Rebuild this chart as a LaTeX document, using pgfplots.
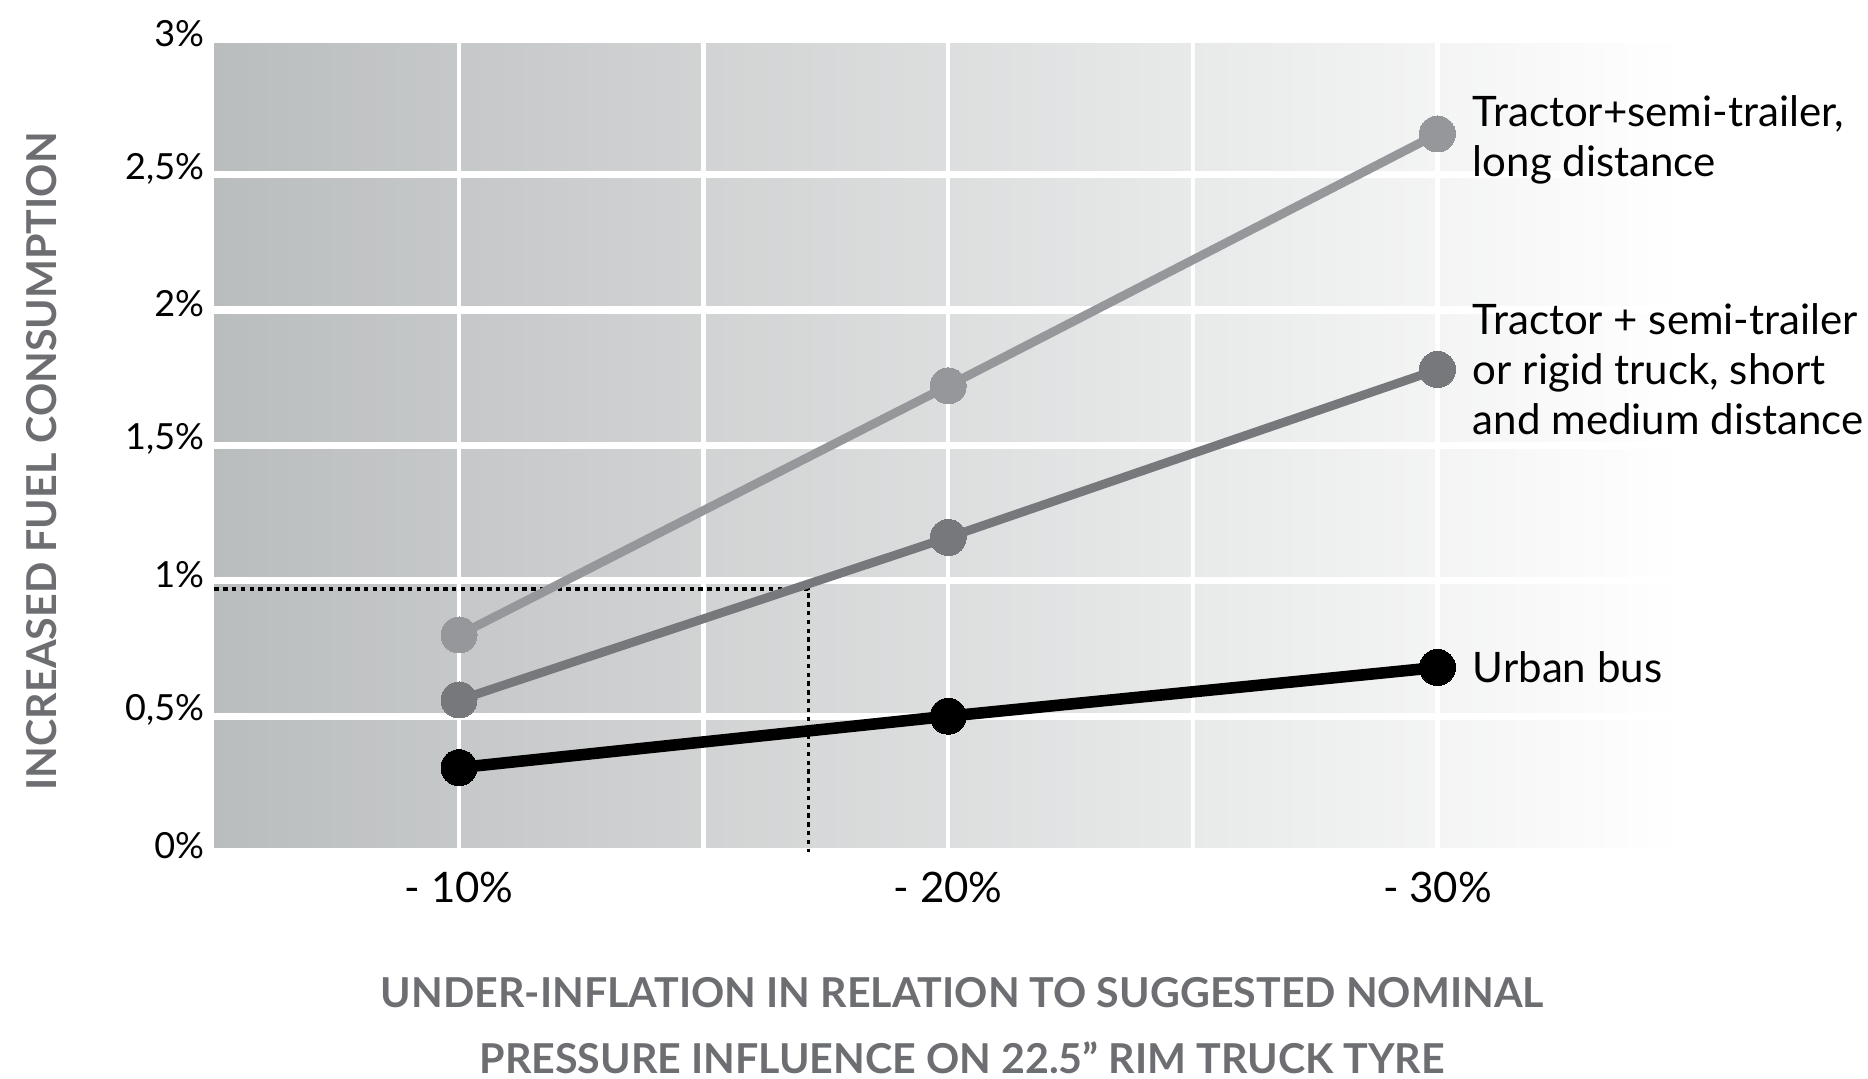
\documentclass[border=0pt]{standalone}
\usepackage{pgfplots}
\pgfplotsset{compat=1.18}
\usepackage{fontspec}
\setmainfont{Lato}
\definecolor{bgleft}{RGB}{186,189,190}
\definecolor{bgmid}{RGB}{216,217,218}
\definecolor{longc}{RGB}{150,151,154}
\definecolor{medc}{RGB}{119,120,123}
\definecolor{titlec}{RGB}{109,110,113}
\begin{document}
\begin{tikzpicture}
\begin{axis}[
  scale only axis,
  width=366.9pt, height=203.1pt,
  xmin=5, xmax=35, ymin=0, ymax=3,
  clip=false,
  axis background/.style={left color=bgleft, middle color=bgmid, right color=white},
  axis line style={draw=none},
  major tick length=0pt, minor tick length=0pt,
  xtick={10,20,30},
  xticklabels={- 10\%, - 20\%, - 30\%},
  minor xtick={15,25},
  ytick={0,0.5,1,1.5,2,2.5,3},
  yticklabels={0\%,{0,5\%},1\%,{1,5\%},2\%,{2,5\%},3\%},
  xmajorgrids, xminorgrids, ymajorgrids,
  x grid style={white, line width=1.1pt},
  y grid style={white, line width=1.8pt},
  /pgf/number format/assume math mode=true,
  tick label style={text=black},
  yticklabel style={font=\fontsize{9}{10}\selectfont, anchor=east, inner sep=0pt, xshift=-2.4pt, yshift=1.5pt},
  xticklabel style={font=\fontsize{10.5}{12}\selectfont, anchor=center, yshift=-9pt},
]
% reading lines
\addplot[black, line width=0.8pt, dash pattern=on 1.1pt off 1.1pt] coordinates {(5,0.97) (17.14,0.97) (17.14,0)};
% series
\addplot[longc, line width=2.2pt, mark=*, mark size=4.5pt, mark options={fill=longc, draw=longc, line width=0pt}] coordinates {(10,0.80) (20,1.72) (30,2.65)};
\addplot[medc, line width=2.2pt, mark=*, mark size=4.5pt, mark options={fill=medc, draw=medc, line width=0pt}] coordinates {(10,0.56) (20,1.16) (30,1.78)};
\addplot[black, line width=2.9pt, mark=*, mark size=4.5pt, mark options={fill=black, draw=black, line width=0pt}] coordinates {(10,0.31) (20,0.50) (30,0.68)};
% labels
\node[anchor=west, inner sep=0pt, align=left, font=\fontsize{10.5}{12.5}\selectfont] at (axis cs:30.71,2.63) {Tractor+semi-trailer,\\long distance};
\node[anchor=west, inner sep=0pt, align=left, font=\fontsize{10.5}{12.5}\selectfont] at (axis cs:30.71,1.78) {Tractor + semi-trailer\\or rigid truck, short\\and medium distance};
\node[anchor=west, inner sep=0pt, align=left, font=\fontsize{10.5}{12.5}\selectfont] at (axis cs:30.71,0.68) {Urban bus};
\node[font=\fontsize{10.3}{12}\bfseries, text=titlec] at ([xshift=3.5pt,yshift=-35.2pt]rel axis cs:0.5,0) {UNDER-INFLATION IN RELATION TO SUGGESTED NOMINAL};
\node[font=\fontsize{10.3}{12}\bfseries, text=titlec] at ([xshift=3.5pt,yshift=-51.6pt]rel axis cs:0.5,0) {PRESSURE INFLUENCE ON 22.5” RIM TRUCK TYRE};
\node[rotate=90, font=\fontsize{10.3}{12}\bfseries, text=titlec] at ([xshift=-43.2pt,yshift=-4pt]rel axis cs:0,0.5) {INCREASED FUEL CONSUMPTION};
\end{axis}
\pgfresetboundingbox
\path ([xshift=-53.6pt,yshift=-56.8pt]current axis.south west) rectangle ([xshift=46.5pt,yshift=9.8pt]current axis.north east);
\end{tikzpicture}
\end{document}
